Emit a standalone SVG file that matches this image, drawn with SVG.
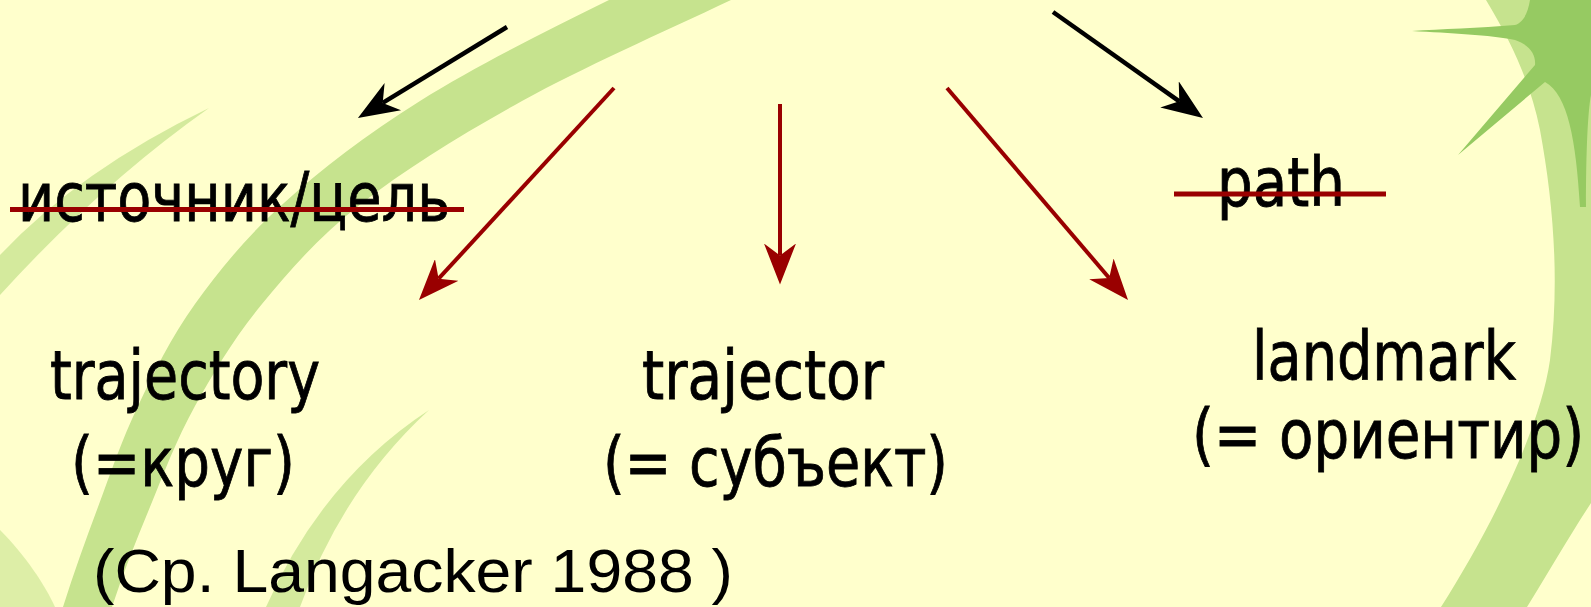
<svg xmlns="http://www.w3.org/2000/svg" width="1591" height="607" viewBox="0 0 1591 607">
<style>
.t{font-family:"DejaVu Sans Condensed","DejaVu Sans",sans-serif;font-stretch:condensed;font-size:68px;fill:#000;stroke:#000;stroke-width:0.8}
.a{font-family:"Liberation Sans",Arial,sans-serif;font-size:62px;fill:#000}
.bl{stroke:#000;stroke-width:4.5;fill:none}
.rd{stroke:#990000;stroke-width:4;fill:none}
.strike{stroke:#990000;stroke-width:5}
.lg{fill:#C6E38E}
.dg{fill:#96CA62}
</style>
<defs>
<marker id="hb" viewBox="0 0 41 32" refX="12" refY="16" markerWidth="41" markerHeight="32" markerUnits="userSpaceOnUse" orient="auto"><path d="M0 0 L41 16 L0 32 L12 16 Z" fill="#000"/></marker>
<marker id="hr" viewBox="0 0 41 32" refX="12" refY="16" markerWidth="41" markerHeight="32" markerUnits="userSpaceOnUse" orient="auto"><path d="M0 0 L41 16 L0 32 L12 16 Z" fill="#990000"/></marker>
</defs>
<rect width="1591" height="607" fill="#FFFFCC"/>
<g id="background">
<path class="lg" d="M50 660 L63 607 C73.5 573.7 85.5 540.5 98 507 C110.5 473.5 121.8 439.8 138 406 C154.2 372.2 170.7 337.8 195 304 C219.3 270.2 246.5 236.8 284 203 C321.5 169.2 365.8 134.8 420 101 C474.2 67.2 540.7 33.7 609 0 L731 0 C659.7 33.7 583.5 67.2 522 101 C460.5 134.8 405.3 169.2 362 203 C318.7 236.8 289.8 270.2 262 304 C234.2 337.8 213.7 372.2 195 406 C176.3 439.8 163.8 473.5 150 507 C136.2 540.5 122.8 573.7 112 607 L100 660 Z"/>
<path class="lg" opacity="0.75" d="M0 255 Q80 170 209 108 Q100 185 0 295 Z"/>
<path class="lg" opacity="0.75" d="M266 607 Q322 480 429 410 Q342 490 300 607 Z"/>
<path class="lg" opacity="0.6" d="M0 530 C25 555 45 585 55 607 L0 607 Z"/>
<path class="lg" d="M1486 0 C1510 40 1530 80 1540 130 C1553 200 1560 280 1550 360 C1540 430 1490 530 1441 607 L1527 607 C1550 570 1570 535 1591 503 L1591 0 Z"/>
<path class="dg" d="M1530 0 C1528 12 1524 22 1515 25 C1480 28 1440 29 1412 31 C1450 33 1490 35 1515 40 C1530 45 1536 55 1535 65 L1458 155 L1545 82 C1568 95 1576 140 1580 207 L1586 207 C1586 150 1588 110 1591 95 L1591 0 Z"/>
</g>
<g id="connectors">
<line class="bl" x1="507" y1="27" x2="382.7" y2="102.9" marker-end="url(#hb)"/>
<line class="bl" x1="1053" y1="12" x2="1179.3" y2="101.3" marker-end="url(#hb)"/>
<line class="rd" x1="614" y1="88" x2="438.6" y2="278.7" marker-end="url(#hr)"/>
<line class="rd" x1="780" y1="104" x2="780" y2="255.5" marker-end="url(#hr)"/>
<line class="rd" x1="947" y1="88" x2="1109.2" y2="278" marker-end="url(#hr)"/>
</g>
<g id="node-source-goal">
<text class="t" x="18" y="221" textLength="432" lengthAdjust="spacingAndGlyphs">источник/цель</text>
<line class="strike" x1="10" y1="209.5" x2="464" y2="209.5"/>
</g>
<g id="node-path">
<text class="t" x="1217" y="206" textLength="128" lengthAdjust="spacingAndGlyphs">path</text>
<line class="strike" x1="1174" y1="194" x2="1386" y2="194"/>
</g>
<g id="node-trajectory">
<text class="t" x="50" y="399" textLength="270" lengthAdjust="spacingAndGlyphs">trajectory</text>
<text class="t" x="71" y="486" textLength="224" lengthAdjust="spacingAndGlyphs">(=круг)</text>
</g>
<g id="node-trajector">
<text class="t" x="642" y="399" textLength="242" lengthAdjust="spacingAndGlyphs">trajector</text>
<text class="t" x="603" y="486" textLength="345" lengthAdjust="spacingAndGlyphs">(= субъект)</text>
</g>
<g id="node-landmark">
<text class="t" x="1252" y="380" textLength="264" lengthAdjust="spacingAndGlyphs">landmark</text>
<text class="t" transform="translate(1192 458) scale(0.92 1)" x="0" y="0">(= ориентир)</text>
</g>
<g id="note">
<text class="a" x="93" y="592" textLength="640" lengthAdjust="spacingAndGlyphs">(Ср. Langacker 1988 )</text>
</g>
</svg>
